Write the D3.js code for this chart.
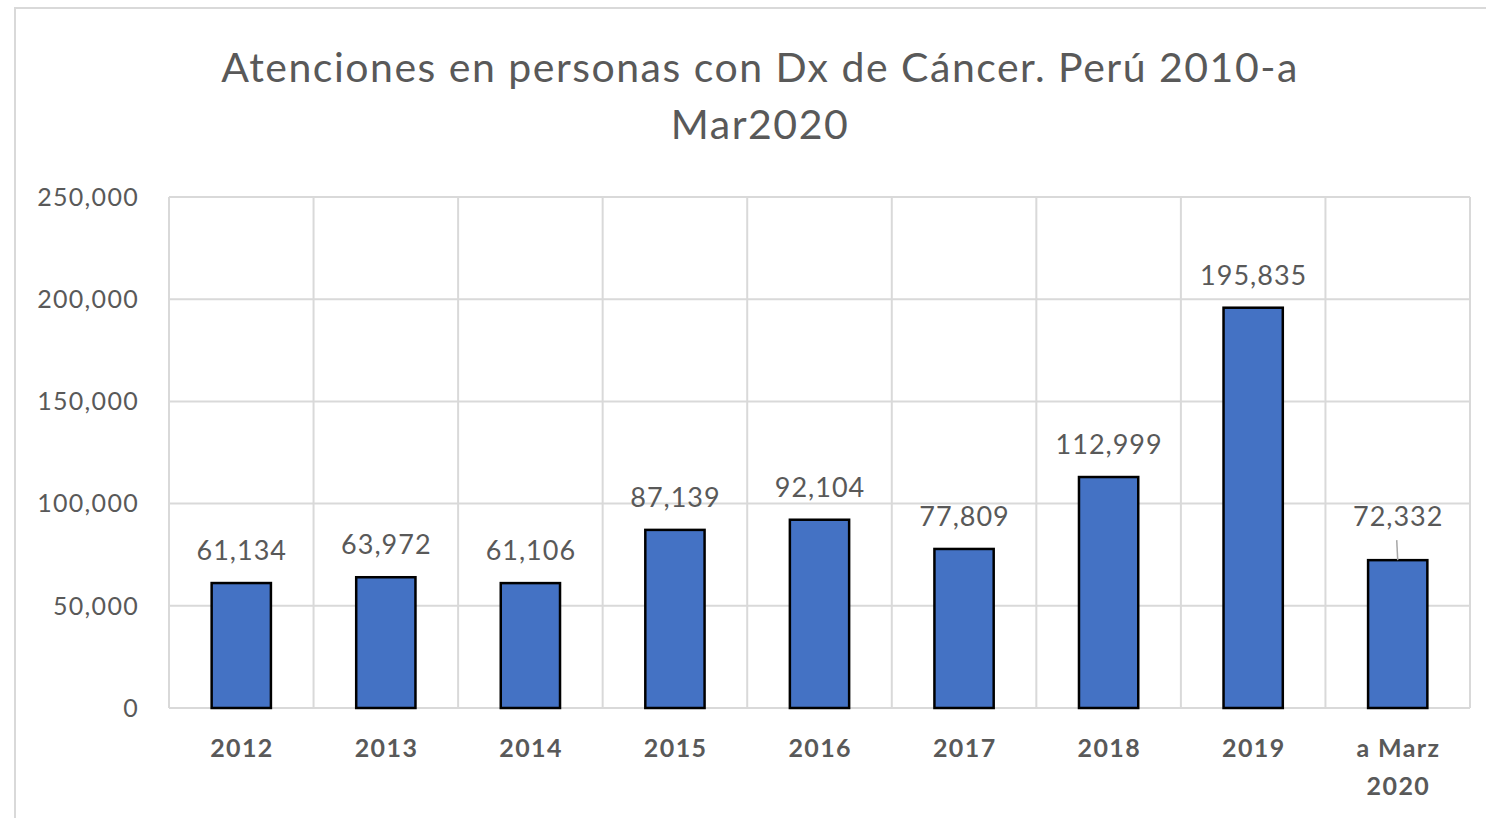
<!DOCTYPE html>
<html><head><meta charset="utf-8">
<script src="https://cdn.jsdelivr.net/npm/d3@7"></script>
<style>
html,body{margin:0;padding:0;background:#fff;}
text{font-family:"Lato","Open Sans",sans-serif;fill:#595959;}
</style></head>
<body>
<svg id="chart" width="1486" height="818"></svg>
<script>
const categories = ["2012","2013","2014","2015","2016","2017","2018","2019","a Marz\n2020"];
const values = [61134,63972,61106,87139,92104,77809,112999,195835,72332];
const yTicks = [0,50000,100000,150000,200000,250000];
const titleLines = ["Atenciones en personas con Dx de Cáncer. Perú 2010-a","Mar2020"];

const svg = d3.select("#chart");
const W = 1486, H = 818;
const m = {left:169, right:1470, top:197, bottom:708};

// outer border
svg.append("path").attr("d",`M15,${H+5} L15,8 L${W+5},8`).attr("fill","none")
  .attr("stroke","#d9d9d9").attr("stroke-width",2);

const x = d3.scaleBand().domain(categories).range([m.left,m.right]).paddingInner(0.59).paddingOuter(0.295);
const xb = d3.scaleBand().domain(categories).range([m.left,m.right]);
const y = d3.scaleLinear().domain([0,250000]).range([m.bottom,m.top]);

// horizontal grid
svg.append("g").selectAll("line").data(yTicks).join("line")
  .attr("x1",m.left).attr("x2",m.right).attr("y1",d=>y(d)).attr("y2",d=>y(d))
  .attr("stroke","#d9d9d9").attr("stroke-width",2);
// vertical grid
const bounds = categories.map(c=>xb(c)).concat([m.right]);
svg.append("g").selectAll("line").data(bounds).join("line")
  .attr("x1",d=>d).attr("x2",d=>d).attr("y1",m.top).attr("y2",m.bottom)
  .attr("stroke","#d9d9d9").attr("stroke-width",2);

// y axis labels
const fmt = d3.format(",");
svg.append("g").selectAll("text").data(yTicks).join("text")
  .attr("x",139).attr("y",d=>y(d)).attr("dy","0.35em").attr("text-anchor","end")
  .attr("font-size",25).attr("letter-spacing",1.3).text(d=>fmt(d));

// bars
svg.append("g").selectAll("rect").data(values).join("rect")
  .attr("x",(d,i)=>x(categories[i])).attr("width",x.bandwidth())
  .attr("y",d=>y(d)).attr("height",d=>y(0)-y(d))
  .attr("fill","#4472c4").attr("stroke","#000").attr("stroke-width",2.5);

// data labels
const lbl = svg.append("g");
values.forEach((v,i)=>{
  const cx = x(categories[i]) + x.bandwidth()/2;
  const isLast = i===values.length-1;
  const by = y(v) - (isLast ? 34 : 23);
  lbl.append("text").attr("x",cx+0.5).attr("y",by).attr("text-anchor","middle")
    .attr("font-size",27).attr("letter-spacing",1).text(fmt(v));
  if(isLast){
    lbl.append("line").attr("x1",cx-1).attr("x2",cx).attr("y1",by+14).attr("y2",y(v))
      .attr("stroke","#a6a6a6").attr("stroke-width",1.5);
  }
});

// category labels
const cg = svg.append("g");
categories.forEach(c=>{
  const cx = xb(c)+xb.bandwidth()/2;
  const lines = c.split("\n");
  const t = cg.append("text").attr("text-anchor","middle").attr("font-size",25)
    .attr("font-weight","bold").attr("letter-spacing",1.4);
  lines.forEach((l,k)=>{
    t.append("tspan").attr("x",cx+0.7).attr("y",757+k*38).text(l);
  });
});

// title
const tt = svg.append("text").attr("text-anchor","middle").attr("font-size",41).attr("letter-spacing",1.5);
titleLines.forEach((l,k)=>{
  tt.append("tspan").attr("x",760).attr("y",82+k*57).text(l);
});
</script>
</body></html>
